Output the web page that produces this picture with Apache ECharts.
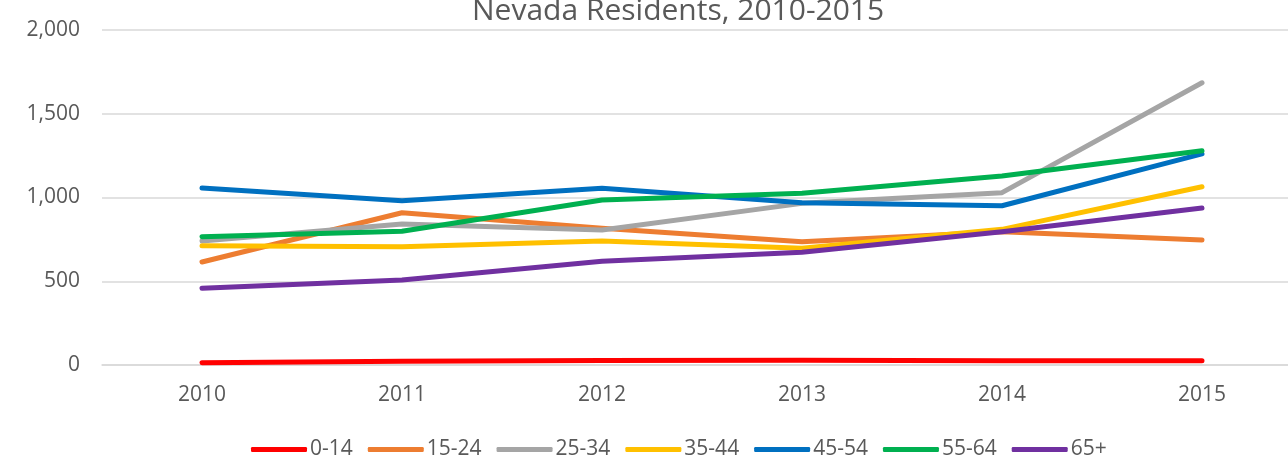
<!DOCTYPE html>
<html>
<head>
<meta charset="utf-8">
<script src="https://cdn.jsdelivr.net/npm/echarts@6/dist/echarts.min.js"></script>
<style>
  html, body { margin: 0; padding: 0; background: #fff; overflow: hidden; }
  /* plot area runs a bit past the right window edge, as in the original */
  #chart { width: 1302px; height: 457px; }
</style>
</head>
<body>
<div id="chart"></div>
<script>
const years = ['2010', '2011', '2012', '2013', '2014', '2015']
const yTicks = [0, 500, 1000, 1500, 2000]

const age0to14 = [14, 22, 27, 28, 26, 26]
const age15to24 = [615, 909, 816, 736, 796, 746]
const age25to34 = [740, 842, 806, 965, 1029, 1685]
const age35to44 = [712, 706, 740, 697, 810, 1064]
const age45to54 = [1057, 981, 1055, 969, 951, 1260]
const age55to64 = [766, 798, 985, 1025, 1128, 1279]
const age65plus = [458, 508, 620, 673, 796, 937]

const seriesDefs = [
  { name: '0-14', data: age0to14, color: '#FF0000' },
  { name: '15-24', data: age15to24, color: '#ED7D31' },
  { name: '25-34', data: age25to34, color: '#A5A5A5' },
  { name: '35-44', data: age35to44, color: '#FFC000' },
  { name: '45-54', data: age45to54, color: '#0070C0' },
  { name: '55-64', data: age55to64, color: '#00B050' },
  { name: '65+', data: age65plus, color: '#7030A0' },
]

const font = '"Open Sans", sans-serif'
const textColor = '#595959'

const chart = echarts.init(document.getElementById('chart'))

chart.setOption({
  animation: false,
  title: {
    text: 'Nevada Residents, 2010-2015',
    left: 467,
    top: -9,
    textStyle: {
      fontFamily: font,
      fontSize: 30,
      fontWeight: 'normal',
      color: textColor,
    },
  },
  legend: {
    top: 434,
    left: 246,
    icon: 'roundRect',
    itemWidth: 56,
    itemHeight: 5,
    itemGap: 15,
    textStyle: {
      fontFamily: font,
      fontSize: 21,
      color: textColor,
      padding: [0, 0, 0, -2],
    },
    data: seriesDefs.map((s) => s.name),
  },
  grid: {
    left: 102,
    right: 0,
    top: 30,
    bottom: 92,
  },
  xAxis: {
    type: 'category',
    data: years,
    boundaryGap: true,
    axisLine: { lineStyle: { color: '#D9D9D9', width: 1.5 } },
    axisTick: { show: false },
    axisLabel: {
      fontFamily: font,
      fontSize: 21,
      color: textColor,
      margin: 20,
    },
  },
  yAxis: {
    type: 'value',
    min: yTicks[0],
    max: yTicks[yTicks.length - 1],
    interval: 500,
    axisLine: { show: false },
    axisTick: { show: false },
    splitLine: { lineStyle: { color: '#D9D9D9', width: 1.5 } },
    axisLabel: {
      fontFamily: font,
      fontSize: 21,
      color: textColor,
      margin: 22,
      formatter: (v) => v.toLocaleString('en-US'),
    },
  },
  series: seriesDefs.map((s) => ({
    name: s.name,
    type: 'line',
    data: s.data,
    symbol: 'none',
    color: s.color,
    lineStyle: { width: 5, color: s.color, cap: 'round', join: 'round' },
  })),
})
</script>
</body>
</html>
